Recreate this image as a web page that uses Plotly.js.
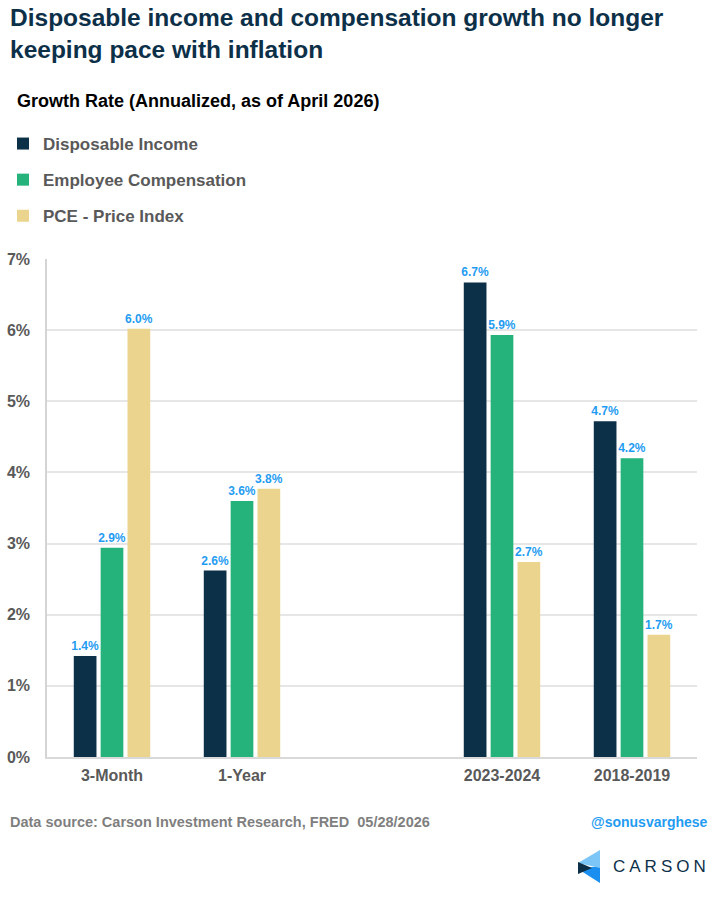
<!DOCTYPE html>
<html>
<head>
<meta charset="utf-8">
<script src="https://cdn.plot.ly/plotly-3.0.1.min.js"></script>
<style>html,body{margin:0;padding:0;background:#fff;}#chart{width:720px;height:904px;}</style>
</head>
<body>
<div id="chart"></div>
<script>
// ---- data ----
var categories = ['3-Month', '1-Year', ' ', '2023-2024', '2018-2019'];
var disposableIncome = [1.42, 2.62, null, 6.67, 4.72];
var employeeComp = [2.94, 3.60, null, 5.93, 4.20];
var pceIndex = [6.02, 3.77, null, 2.74, 1.72];
var seriesNames = ['Disposable Income', 'Employee Compensation', 'PCE - Price Index'];
var yTickVals = [0, 1, 2, 3, 4, 5, 6, 7];
var yTickText = ['0%', '1%', '2%', '3%', '4%', '5%', '6%', '7%'];

// ---- layout helpers ----
var W = 720, H = 904;
var ML = 47, MR = 23, MT = 259, MB = 147;
var PW = W - ML - MR, PH = H - MT - MB;
function px(x) { return (x - ML) / PW; }
function py(y) { return (H - MB - y) / PH; }

var FAM = 'Liberation Sans, Arial, sans-serif';
var colors = ['#0D3049', '#25B27B', '#EAD48E'];
var labelFont = { family: FAM, size: 12, color: '#1F9CF2', weight: 'bold' };

function mk(i, vals) {
  return {
    type: 'bar',
    name: seriesNames[i],
    x: categories,
    y: vals,
    marker: { color: colors[i] },
    text: vals.map(function (v) { return v == null ? '' : v.toFixed(1) + '%'; }),
    texttemplate: '<b>%{text}</b>',
    textposition: 'outside',
    constraintext: 'none',
    cliponaxis: false,
    textfont: labelFont,
    legendgroup: 'g' + i,
    hoverinfo: 'x+y+name'
  };
}

var data = [mk(0, disposableIncome), mk(1, employeeComp), mk(2, pceIndex)];

function poly(pts, color) {
  var d = pts.map(function (p, k) { return (k ? 'L' : 'M') + px(p[0]) + ',' + py(p[1]); }).join(' ') + ' Z';
  return { type: 'path', xref: 'paper', yref: 'paper', path: d, fillcolor: color, line: { width: 0 }, layer: 'above' };
}

var layout = {
  width: W, height: H,
  margin: { l: ML, r: MR, t: MT, b: MB, pad: 0, autoexpand: false },
  paper_bgcolor: '#ffffff',
  plot_bgcolor: '#ffffff',
  font: { family: FAM, color: '#595959' },
  barmode: 'group',
  bargap: 0.38,
  bargroupgap: 0.155,
  showlegend: true,
  legend: {
    x: px(3), xanchor: 'left',
    y: py(126), yanchor: 'top',
    orientation: 'v',
    font: { family: FAM, size: 17, color: '#595959', weight: 'bold' },
    tracegroupgap: 11,
    bgcolor: 'rgba(0,0,0,0)',
    itemclick: false, itemdoubleclick: false
  },
  xaxis: {
    type: 'category',
    automargin: false,
    showgrid: false,
    showline: true,
    linecolor: '#D9D9D9',
    linewidth: 2,
    ticks: 'outside',
    ticklen: 3,
    tickcolor: 'rgba(0,0,0,0)',
    tickfont: { family: FAM, size: 16, color: '#595959', weight: 'bold' },
    fixedrange: true
  },
  yaxis: {
    automargin: false,
    range: [0, 7],
    tickvals: yTickVals,
    ticktext: yTickText,
    showgrid: true,
    gridcolor: '#E6E6E6',
    gridwidth: 2,
    showline: true,
    linecolor: '#D4D4D4',
    linewidth: 1.5,
    zeroline: false,
    ticks: 'outside',
    ticklen: 12,
    tickcolor: 'rgba(0,0,0,0)',
    tickfont: { family: FAM, size: 16, color: '#595959', weight: 'bold' },
    fixedrange: true
  },
  annotations: [
    {
      text: '<b>Disposable income and compensation growth no longer<br>keeping pace with inflation</b>',
      xref: 'paper', yref: 'paper', x: px(8), y: py(34),
      xanchor: 'left', yanchor: 'middle', align: 'left', showarrow: false,
      font: { family: FAM, size: 24.5, color: '#0D3049' }
    },
    {
      text: '<b>Growth Rate (Annualized, as of April 2026)</b>',
      xref: 'paper', yref: 'paper', x: px(15), y: py(101),
      xanchor: 'left', yanchor: 'middle', showarrow: false,
      font: { family: FAM, size: 18, color: '#000000' }
    },
    {
      text: '<b>Data source: Carson Investment Research, FRED  05/28/2026</b>',
      xref: 'paper', yref: 'paper', x: px(8), y: py(822),
      xanchor: 'left', yanchor: 'middle', showarrow: false,
      font: { family: FAM, size: 14.5, color: '#7F7F7F' }
    },
    {
      text: '<b>@sonusvarghese</b>',
      xref: 'paper', yref: 'paper', x: px(710), y: py(822),
      xanchor: 'right', yanchor: 'middle', showarrow: false,
      font: { family: FAM, size: 14, color: '#1F9CF2' }
    },
    {
      text: '<span style="letter-spacing:4px">CARSON</span>',
      xref: 'paper', yref: 'paper', x: px(611), y: py(866),
      xanchor: 'left', yanchor: 'middle', showarrow: false,
      font: { family: FAM, size: 17, color: '#0D3049' }
    }
  ],
  shapes: [
    poly([[600, 866], [578, 869], [600, 883]], '#1A8FEF'),
    poly([[600, 850], [578, 863], [600, 868]], '#7CC6F7'),
    poly([[578, 862], [592, 868], [578, 874]], '#0D3049')
  ]
};

Plotly.newPlot('chart', data, layout, { displayModeBar: false, responsive: false });
</script>
</body>
</html>
